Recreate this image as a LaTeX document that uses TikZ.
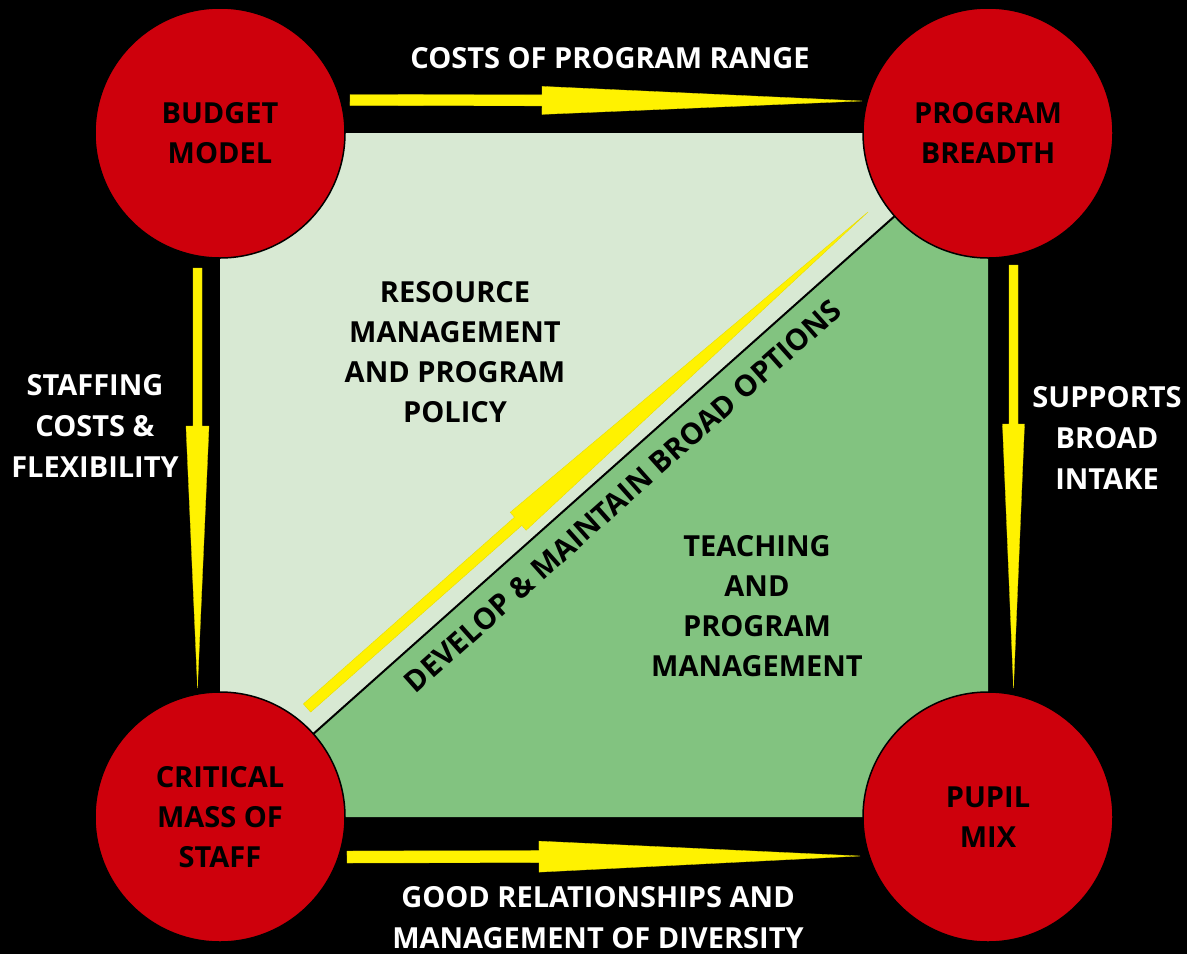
\documentclass[tikz,border=0pt]{standalone}
\usepackage{fontspec}
\setmainfont{Open Sans}
\usetikzlibrary{calc}
\definecolor{cred}{RGB}{206,0,12}
\definecolor{lgreen}{RGB}{216,233,211}
\definecolor{dgreen}{RGB}{130,195,128}
\definecolor{yel}{RGB}{255,242,0}
\tikzset{
  circ/.style={circle, draw=black, line width=1.5pt, fill=cred, minimum size=250pt,
    inner sep=0pt, align=center, text=black, font=\bfseries\fontsize{29}{40}\selectfont},
  wlabel/.style={align=center, text=white, font=\bfseries\fontsize{29}{41}\selectfont},
  blabel/.style={align=center, text=black, font=\bfseries\fontsize{29}{40}\selectfont},
  yarr/.style={fill=yel, draw=yel!90!black, line width=0.3pt, line join=miter},
}
% #1 start, #2 end, #3 half shaft width, #4 head length, #5 half head width
\newcommand{\yarrowshape}[5]{%
  \coordinate (hb) at ($(#2)!#4!(#1)$);
  \filldraw[yarr]
    ($(#1)!#3!90:(#2)$) --
    ($(hb)!#3!-90:(#1)$) --
    ($(hb)!#5!-90:(#1)$) --
    (#2) --
    ($(hb)!#5!90:(#1)$) --
    ($(hb)!#3!90:(#1)$) --
    ($(#1)!#3!-90:(#2)$) -- cycle;
}
\begin{document}
\begin{tikzpicture}[x=1pt,y=-1pt]
\fill[black] (0,0) rectangle (1187,954);
\useasboundingbox (0,0) rectangle (1187,954);
% square corners = circle centres
\coordinate (cBM) at (220,133);
\coordinate (cPB) at (988,133);
\coordinate (cCM) at (220,817);
\coordinate (cPM) at (988,817);
\fill[lgreen] (cBM) -- (cPB) -- (cCM) -- cycle;
\fill[dgreen] (cPB) -- (cPM) -- (cCM) -- cycle;
\draw[line width=2pt] (cCM) -- (cPB);
% diagonal arrow
\coordinate (d1) at (307,708);
\coordinate (d2) at (868,212);
\yarrowshape{d1}{d2}{5.5pt}{467pt}{12pt}
% circles
\node[circ] (bm) at (cBM) {BUDGET\\MODEL};
\node[circ] (pb) at (cPB) {PROGRAM\\BREADTH};
\node[circ] (cm) at (cCM) {CRITICAL\\MASS OF\\STAFF};
\node[circ] (pm) at (cPM) {PUPIL\\MIX};
% arrows between circles
\coordinate (a1s) at (350,100);  \coordinate (a1e) at (862,101);
\coordinate (a2s) at (197.5,268); \coordinate (a2e) at (197.5,688);
\coordinate (a3s) at (1013.5,265); \coordinate (a3e) at (1013.5,688);
\coordinate (a4s) at (347,857);  \coordinate (a4e) at (860,856);
\yarrowshape{a1s}{a1e}{5.5pt}{320pt}{14pt}
\yarrowshape{a2s}{a2e}{4.5pt}{262pt}{11.5pt}
\yarrowshape{a3s}{a3e}{4.5pt}{264pt}{11pt}
\yarrowshape{a4s}{a4e}{6pt}{321pt}{15.5pt}
% labels
\node[wlabel] (l1) at (610,58) {COSTS OF PROGRAM RANGE};
\node[wlabel] (l2) at (95,426) {STAFFING\\COSTS \&\\FLEXIBILITY};
\node[wlabel] (l3) at (1107,438) {SUPPORTS\\BROAD\\INTAKE};
\node[wlabel] (l4) at (598,918) {GOOD RELATIONSHIPS AND\\MANAGEMENT OF DIVERSITY};
\node[blabel] (r1) at (455,352) {RESOURCE\\MANAGEMENT\\AND PROGRAM\\POLICY};
\node[blabel] (r2) at (757,606) {TEACHING\\AND\\PROGRAM\\MANAGEMENT};
\node[blabel, rotate=41.7, font=\bfseries\fontsize{29.5}{40}\selectfont] (dev) at (622.6,495.9) {DEVELOP \& MAINTAIN BROAD OPTIONS};
\end{tikzpicture}
\end{document}
